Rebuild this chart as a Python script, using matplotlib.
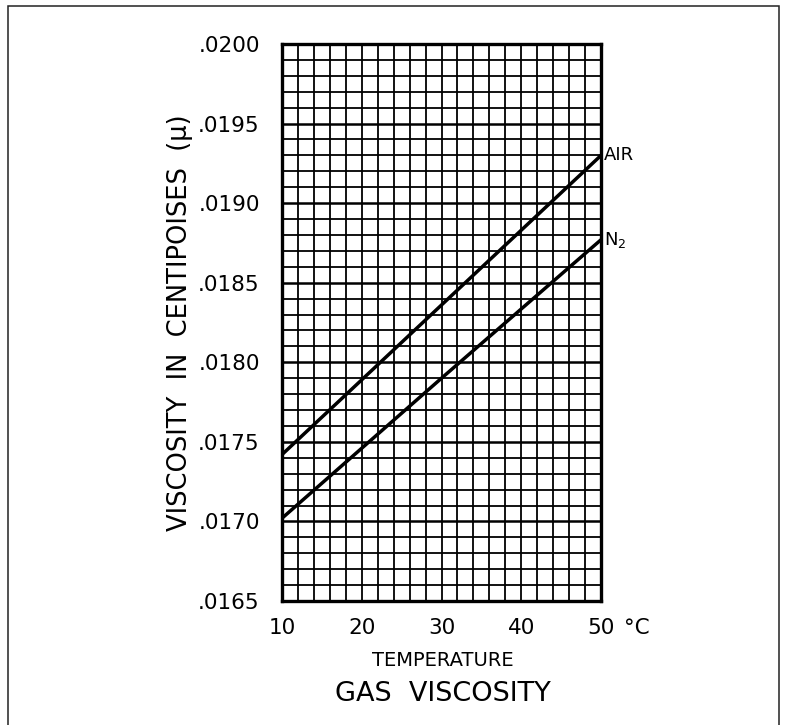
import matplotlib
matplotlib.use("Agg")
import matplotlib.pyplot as plt
from matplotlib.ticker import MultipleLocator, FixedLocator
from matplotlib.patches import Rectangle

# Temperature (deg C) and gas viscosity (centipoise)
temperature = [10, 30, 50]
air_viscosity = [0.01742, 0.01836, 0.01930]
n2_viscosity = [0.01702, 0.01790, 0.01877]

x_ticks = [10, 20, 30, 40, 50]
y_ticks = [0.0165, 0.0170, 0.0175, 0.0180, 0.0185, 0.0190, 0.0195, 0.0200]
y_tick_labels = [".0165", ".0170", ".0175", ".0180", ".0185", ".0190", ".0195", ".0200"]

plt.rcParams["font.family"] = ["DejaVu Sans"]

W, H = 787, 725
fig = plt.figure(figsize=(W / 100, H / 100), dpi=100)

# Thin outer frame
frame = Rectangle((8 / W, -0.05), (779 - 8) / W, 1.05 - 6 / H,
                  transform=fig.transFigure, fill=False,
                  edgecolor="#222222", linewidth=1.1)
fig.patches.append(frame)

ax = fig.add_axes([282 / W, 1 - 601 / H, (601 - 282) / W, (601 - 44) / H])
ax.set_xlim(10, 50)
ax.set_ylim(0.0165, 0.0200)

# Graph-paper grid: fine cells every 2 deg C / 0.0001 cP
ax.xaxis.set_major_locator(FixedLocator(x_ticks))
ax.xaxis.set_minor_locator(MultipleLocator(2))
ax.yaxis.set_major_locator(FixedLocator(y_ticks))
ax.yaxis.set_minor_locator(MultipleLocator(0.0001))
ax.grid(which="minor", color="black", linewidth=1.3)
ax.xaxis.grid(which="major", color="black", linewidth=1.3)
ax.yaxis.grid(which="major", color="black", linewidth=1.8)
ax.set_axisbelow(True)

for s in ax.spines.values():
    s.set_linewidth(2.4)
    s.set_color("black")

ax.set_yticklabels(y_tick_labels)
ax.set_xticklabels([str(v) for v in x_ticks])
ax.tick_params(axis="both", which="both", length=0)
ax.tick_params(axis="y", labelsize=15.5, pad=16)
ax.tick_params(axis="x", labelsize=15.5, pad=12)

ax.plot(temperature, air_viscosity, color="black", linewidth=2.5, solid_capstyle="butt")
ax.plot(temperature, n2_viscosity, color="black", linewidth=2.5, solid_capstyle="butt")

ax.text(50.4, air_viscosity[-1], "AIR", fontsize=13, ha="left", va="center")
ax.text(50.4, n2_viscosity[-1], "N$_2$", fontsize=13, ha="left", va="center")

# Unit after the last temperature label
ax.annotate("°C", xy=(50, 0.0165), xycoords="data", xytext=(23, -27),
            textcoords="offset pixels", fontsize=15.5, ha="left", va="center")

ax.set_ylabel("VISCOSITY  IN  CENTIPOISES  (μ)", fontsize=18.5, labelpad=4)
fig.text(443 / W, 1 - 661 / H, "TEMPERATURE", fontsize=14, ha="center", va="center")
fig.text(443 / W, 1 - 694 / H, "GAS  VISCOSITY", fontsize=19.5, ha="center", va="center")

fig.savefig("out.png", dpi=100)
